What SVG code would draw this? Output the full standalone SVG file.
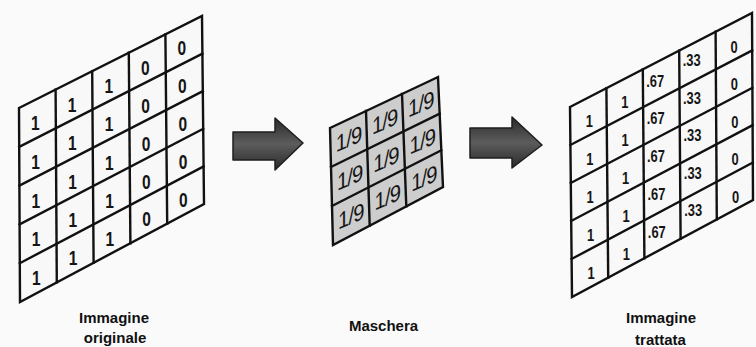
<svg xmlns="http://www.w3.org/2000/svg" width="756" height="347" viewBox="0 0 756 347">
<defs>
<style>
.frame{stroke:#111;stroke-width:2.4;stroke-linejoin:miter}
.grid{fill:none;stroke:#111;stroke-width:2.4;stroke-linecap:square}
.n{font-family:"Liberation Sans",Arial,sans-serif;font-weight:bold;text-anchor:middle;fill:#151515}
.big{font-size:21px}
.sm{font-size:17px}
.fr{font-size:23px;font-weight:normal;letter-spacing:-1px}
.lbl{font-family:"Liberation Sans",Arial,sans-serif;font-weight:bold;font-size:15px;text-anchor:middle;fill:#111}
.arrow{fill:url(#ag);stroke:#1e1e1e;stroke-width:1.5;stroke-linejoin:round}
</style>
<linearGradient id="ag" x1="0" y1="0" x2="0" y2="1">
<stop offset="0" stop-color="#2a2a2a"/>
<stop offset="0.5" stop-color="#5c5c5c"/>
<stop offset="1" stop-color="#2a2a2a"/>
</linearGradient>
</defs>
<rect width="756" height="347" fill="#fafafa"/>

<g id="original">
<polygon class="frame" fill="#f8f8f8" points="19,108 202,16 204,204 20,302"/>
<g class="grid">
<line x1="55.6" y1="89.6" x2="56.8" y2="282.4"/>
<line x1="92.2" y1="71.2" x2="93.6" y2="262.8"/>
<line x1="128.8" y1="52.8" x2="130.4" y2="243.2"/>
<line x1="165.4" y1="34.4" x2="167.2" y2="223.6"/>
<line x1="19.2" y1="146.8" x2="202.4" y2="53.6"/>
<line x1="19.4" y1="185.6" x2="202.8" y2="91.2"/>
<line x1="19.6" y1="224.4" x2="203.2" y2="128.8"/>
<line x1="19.8" y1="263.2" x2="203.6" y2="166.4"/>
</g>
<g class="n big">
<text transform="translate(35.4,130) scale(0.74,1)">1</text>
<text transform="translate(35.6,169) scale(0.74,1)">1</text>
<text transform="translate(35.9,207.5) scale(0.74,1)">1</text>
<text transform="translate(36.1,246) scale(0.74,1)">1</text>
<text transform="translate(36.3,285) scale(0.74,1)">1</text>
<text transform="translate(72,111.6) scale(0.74,1)">1</text>
<text transform="translate(72.3,150) scale(0.74,1)">1</text>
<text transform="translate(72.6,188.5) scale(0.74,1)">1</text>
<text transform="translate(72.8,227) scale(0.74,1)">1</text>
<text transform="translate(73.1,265.4) scale(0.74,1)">1</text>
<text transform="translate(108.7,93) scale(0.74,1)">1</text>
<text transform="translate(109,131.3) scale(0.74,1)">1</text>
<text transform="translate(109.3,169.5) scale(0.74,1)">1</text>
<text transform="translate(109.6,207.7) scale(0.74,1)">1</text>
<text transform="translate(109.9,246) scale(0.74,1)">1</text>
<text transform="translate(145.3,74.6) scale(0.74,1)">0</text>
<text transform="translate(145.6,112.5) scale(0.74,1)">0</text>
<text transform="translate(146,150.5) scale(0.74,1)">0</text>
<text transform="translate(146.3,188.5) scale(0.74,1)">0</text>
<text transform="translate(146.6,226.4) scale(0.74,1)">0</text>
<text transform="translate(181.9,54.5) scale(0.74,1)">0</text>
<text transform="translate(182.3,92.5) scale(0.74,1)">0</text>
<text transform="translate(182.7,130.5) scale(0.74,1)">0</text>
<text transform="translate(183,168.5) scale(0.74,1)">0</text>
<text transform="translate(183.4,206.5) scale(0.74,1)">0</text>
</g>
</g>

<g id="mask">
<polygon class="frame" fill="#cdcdcd" points="330,128 438,77 443,187 333,245"/>
<g class="grid">
<line x1="366" y1="111" x2="369.7" y2="225.7"/>
<line x1="402" y1="94" x2="406.3" y2="206.3"/>
<line x1="331" y1="167" x2="439.7" y2="113.7"/>
<line x1="332" y1="206" x2="441.3" y2="150.3"/>
</g>
<g class="n fr">
<text transform="translate(348.6,138.8) skewY(-24) scale(0.88,1)" y="8">1/9</text>
<text transform="translate(349.7,177.4) skewY(-24) scale(0.88,1)" y="8">1/9</text>
<text transform="translate(350.8,216) skewY(-24) scale(0.88,1)" y="8">1/9</text>
<text transform="translate(384.7,121.4) skewY(-24) scale(0.88,1)" y="8">1/9</text>
<text transform="translate(386,159.3) skewY(-24) scale(0.88,1)" y="8">1/9</text>
<text transform="translate(387.3,197.1) skewY(-24) scale(0.88,1)" y="8">1/9</text>
<text transform="translate(420.8,104) skewY(-24) scale(0.88,1)" y="8">1/9</text>
<text transform="translate(422.3,141.1) skewY(-24) scale(0.88,1)" y="8">1/9</text>
<text transform="translate(423.9,178.2) skewY(-24) scale(0.88,1)" y="8">1/9</text>
</g>
</g>

<g id="result">
<polygon class="frame" fill="#f8f8f8" points="570,107 752,13 753,200 572,297"/>
<g class="grid">
<line x1="606.4" y1="88.2" x2="608.2" y2="277.6"/>
<line x1="642.8" y1="69.4" x2="644.4" y2="258.2"/>
<line x1="679.2" y1="50.6" x2="680.6" y2="238.8"/>
<line x1="715.6" y1="31.8" x2="716.8" y2="219.4"/>
<line x1="570.4" y1="145" x2="752.2" y2="50.4"/>
<line x1="570.8" y1="183" x2="752.4" y2="87.8"/>
<line x1="571.2" y1="221" x2="752.6" y2="125.2"/>
<line x1="571.6" y1="259" x2="752.8" y2="162.6"/>
</g>
<g class="n sm">
<text transform="translate(589.4,127) scale(0.76,1)">1</text>
<text transform="translate(589.8,165) scale(0.76,1)">1</text>
<text transform="translate(590.2,203) scale(0.76,1)">1</text>
<text transform="translate(590.6,241) scale(0.76,1)">1</text>
<text transform="translate(591,279) scale(0.76,1)">1</text>
<text transform="translate(624.8,108) scale(0.76,1)">1</text>
<text transform="translate(625.2,146) scale(0.76,1)">1</text>
<text transform="translate(625.6,184) scale(0.76,1)">1</text>
<text transform="translate(626,221.5) scale(0.76,1)">1</text>
<text transform="translate(626.4,259.5) scale(0.76,1)">1</text>
<text transform="translate(655.2,86.5) scale(0.76,1)">.67</text>
<text transform="translate(655.6,124) scale(0.76,1)">.67</text>
<text transform="translate(656,162) scale(0.76,1)">.67</text>
<text transform="translate(656.4,199.5) scale(0.76,1)">.67</text>
<text transform="translate(656.8,237.5) scale(0.76,1)">.67</text>
<text transform="translate(691.6,66) scale(0.76,1)">.33</text>
<text transform="translate(692,103.5) scale(0.76,1)">.33</text>
<text transform="translate(692.4,141) scale(0.76,1)">.33</text>
<text transform="translate(692.8,178.5) scale(0.76,1)">.33</text>
<text transform="translate(693.2,216) scale(0.76,1)">.33</text>
<text transform="translate(734,52.5) scale(0.76,1)">0</text>
<text transform="translate(734.4,90) scale(0.76,1)">0</text>
<text transform="translate(734.8,127.5) scale(0.76,1)">0</text>
<text transform="translate(735.2,165) scale(0.76,1)">0</text>
<text transform="translate(735.6,202.5) scale(0.76,1)">0</text>
</g>
</g>

<g id="connectors">
<path class="arrow" d="M233,132 L275,132 L275,118 L303,143 L275,170 L275,160 L233,160 Z"/>
<path class="arrow" d="M470,128 L512,128 L512,117 L542,145 L512,168 L512,158 L470,158 Z"/>
</g>

<g id="labels">
<text class="lbl" x="114" y="323">Immagine</text>
<text class="lbl" x="115" y="343">originale</text>
<text class="lbl" x="383.5" y="331">Maschera</text>
<text class="lbl" x="661" y="323">Immagine</text>
<text class="lbl" x="660.5" y="345">trattata</text>
</g>
</svg>
